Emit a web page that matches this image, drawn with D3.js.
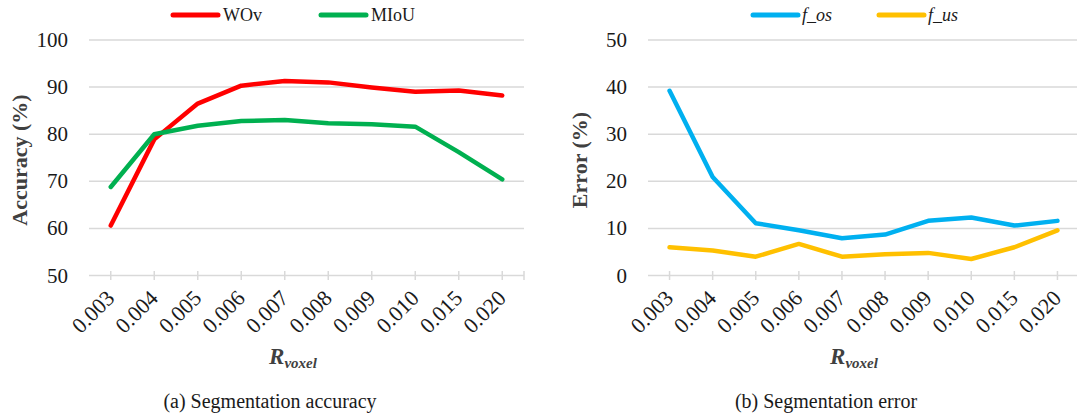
<!DOCTYPE html>
<html>
  <head>
    <meta charset="utf-8">
    <title>Segmentation accuracy and error</title>
    <style>
      body { margin: 0; background: #fff; }
      svg { display: block; }
    </style>
  </head>
  <body>
    <div id="chart"></div>
    <script src="https://cdn.jsdelivr.net/npm/d3@7/dist/d3.min.js"></script>
    <script>
      (function(d3) {
        'use strict';
        var categories = ['0.003', '0.004', '0.005', '0.006', '0.007', '0.008', '0.009', '0.010', '0.015', '0.020'];
        var wov  = [60.6, 78.9, 86.5, 90.3, 91.3, 91.0, 89.9, 89.0, 89.3, 88.2];
        var miou = [68.8, 80.0, 81.8, 82.8, 83.0, 82.3, 82.1, 81.6, 76.2, 70.4];
        var fOs  = [39.2, 20.9, 11.1, 9.6, 7.9, 8.7, 11.6, 12.3, 10.6, 11.6];
        var fUs  = [6.0, 5.3, 4.0, 6.7, 4.0, 4.5, 4.8, 3.5, 6.0, 9.6];
        var accTicks = [50, 60, 70, 80, 90, 100];
        var errTicks = [0, 10, 20, 30, 40, 50];

        var width = 1077, height = 418;
        var serif = "'Liberation Serif', 'Times New Roman', Tinos, 'DejaVu Serif', serif";
        var svg = d3.select('#chart').append('svg')
          .attr('width', width).attr('height', height)
          .attr('font-family', serif)
          .style('font-family', serif);

        var panels = [
          {
            left: 89, right: 524, ticks: accTicks, yTitle: 'Accuracy (%)', yTitleX: 27,
            caption: '(a) Segmentation accuracy', captionX: 270, labelX: 68, xTitleX: 293,
            legendX: 173, legendGap: 148, italic: false,
            series: [
              { name: 'WOv', values: wov, color: '#ff0000' },
              { name: 'MIoU', values: miou, color: '#00b050' }
            ]
          },
          {
            left: 648, right: 1079, ticks: errTicks, yTitle: 'Error (%)', yTitleX: 587,
            caption: '(b) Segmentation error', captionX: 826, labelX: 627, xTitleX: 854,
            legendX: 753, legendGap: 126, italic: true,
            series: [
              { name: 'f_os', values: fOs, color: '#00b0f0' },
              { name: 'f_us', values: fUs, color: '#ffc000' }
            ]
          }
        ];

        panels.forEach(function(p) {
          var x = d3.scaleBand().domain(categories).range([p.left, p.right]);
          var cx = function(c) { return x(c) + x.bandwidth() / 2; };
          var y = d3.scaleLinear().domain(d3.extent(p.ticks)).range([275.5, 40]);
          var g = svg.append('g');

          // grid lines
          g.selectAll('.grid').data(p.ticks).enter().append('line')
            .attr('x1', p.left).attr('x2', p.right)
            .attr('y1', function(d) { return y(d); })
            .attr('y2', function(d) { return y(d); })
            .attr('stroke', '#d9d9d9').attr('stroke-width', 1.5);

          // tick marks on the category axis
          var tickPos = categories.map(cx).concat([p.right]);
          g.selectAll('.tick').data(tickPos).enter().append('line')
            .attr('x1', function(d) { return d; }).attr('x2', function(d) { return d; })
            .attr('y1', y(p.ticks[0]) - 4.5).attr('y2', y(p.ticks[0]) + 4.5)
            .attr('stroke', '#d9d9d9').attr('stroke-width', 1.5);

          // y tick labels
          g.selectAll('.ylab').data(p.ticks).enter().append('text')
            .attr('x', p.labelX).attr('y', function(d) { return y(d) + 7; })
            .attr('text-anchor', 'end')
            .attr('font-size', 21).attr('fill', '#1a1a1a')
            .text(function(d) { return d; });

          // x tick labels
          g.selectAll('.xlab').data(categories).enter().append('text')
            .attr('transform', function(d) {
              return 'translate(' + (cx(d) + 5) + ',' + (y(p.ticks[0]) + 24) + ') rotate(-45)';
            })
            .attr('text-anchor', 'end')
            .attr('font-size', 22).attr('fill', '#1a1a1a')
            .text(function(d) { return d; });

          // series lines
          var line = d3.line()
            .x(function(d, i) { return cx(categories[i]); })
            .y(function(d) { return y(d); });
          p.series.forEach(function(s) {
            g.append('path')
              .attr('d', line(s.values))
              .attr('fill', 'none')
              .attr('stroke', s.color)
              .attr('stroke-width', 4.5)
              .attr('stroke-linejoin', 'round')
              .attr('stroke-linecap', 'round');
          });

          // legend
          p.series.forEach(function(s, i) {
            var lx = p.legendX + i * p.legendGap;
            g.append('line')
              .attr('x1', lx).attr('x2', lx + 45)
              .attr('y1', 15).attr('y2', 15)
              .attr('stroke', s.color).attr('stroke-width', 5)
              .attr('stroke-linecap', 'round');
            g.append('text')
              .attr('x', lx + (p.italic ? 49 : 50)).attr('y', 21)
              .attr('font-size', 18).attr('fill', '#1a1a1a')
              .attr('font-style', p.italic ? 'italic' : 'normal')
              .text(s.name);
          });

          // y axis title
          g.append('text')
            .attr('transform', 'translate(' + p.yTitleX + ',' + 160 + ') rotate(-90)')
            .attr('text-anchor', 'middle')
            .attr('font-size', 22).attr('font-weight', 'bold').attr('fill', '#404040')
            .text(p.yTitle);

          // x axis title
          var xt = g.append('text')
            .attr('x', p.xTitleX).attr('y', 364)
            .attr('text-anchor', 'middle')
            .attr('font-weight', 'bold').attr('font-style', 'italic')
            .attr('fill', '#404040');
          xt.append('tspan').attr('font-size', 23).text('R');
          xt.append('tspan').attr('font-size', 15).attr('dy', 4).text('voxel');

          // caption
          g.append('text')
            .attr('x', p.captionX).attr('y', 408)
            .attr('text-anchor', 'middle')
            .attr('font-size', 20).attr('fill', '#1a1a1a')
            .text(p.caption);
        });
      })(window.d3);
    </script>
  </body>
</html>
